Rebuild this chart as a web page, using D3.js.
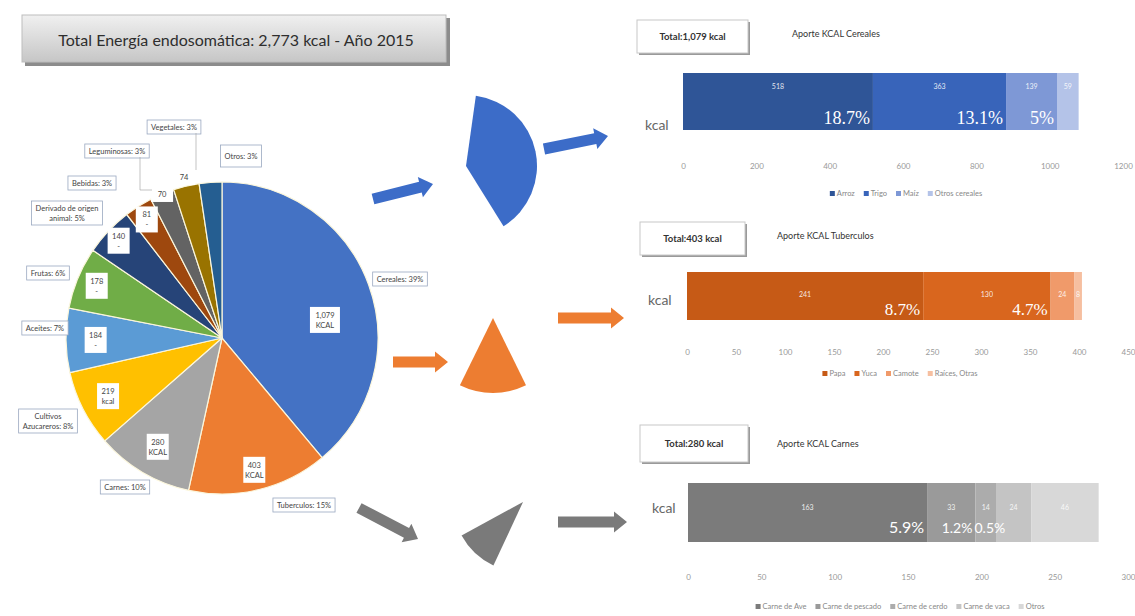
<!DOCTYPE html>
<html><head><meta charset="utf-8">
<script src="https://cdn.jsdelivr.net/npm/d3@7"></script>
<style>body{margin:0;background:#fff}svg{display:block;font-family:Lato,"Liberation Sans",sans-serif}</style>
</head><body><svg id="c" width="1135" height="616"></svg>
<script>
// ---------------- DATA ----------------
const titleText = "Total Energía endosomática: 2,773 kcal - Año 2015";
const pieCategories = ["Cereales","Tuberculos","Carnes","Cultivos Azucareros","Aceites","Frutas","Derivado de origen animal","Bebidas","Leguminosas","Vegetales","Otros"];
const pieValues = [1079,403,280,219,184,178,140,81,70,74,65];
const piePctLabels = ["39%","15%","10%","8%","7%","6%","5%","3%","3%","3%","3%"];
const pieValueLabels = [["1,079","KCAL"],["403","KCAL"],["280","KCAL"],["219","kcal"],["184","-"],["178","-"],["140","-"],["81","-"],["70"],["74"],[]];

const cerealCats = ["Arroz","Trigo","Maíz","Otros cereales"];
const cerealVals = [518,363,139,59];
const cerealPct = ["18.7%","13.1%","5%",""];
const cerealTicks = [0,200,400,600,800,1000,1200];

const tuberCats = ["Papa","Yuca","Camote","Raíces, Otras"];
const tuberVals = [241,130,24,8];
const tuberPct = ["8.7%","4.7%","",""];
const tuberTicks = [0,50,100,150,200,250,300,350,400,450];

const carneCats = ["Carne de Ave","Carne de pescado","Carne de cerdo","Carne de vaca","Otros"];
const carneVals = [163,33,14,24,46];
const carnePct = ["5.9%","1.2%","0.5%","",""];
const carneTicks = [0,50,100,150,200,250,300];

// ---------------- STYLE / LAYOUT ----------------
const pieColors = ["#4472C4","#ED7D31","#A5A5A5","#FFC000","#5B9BD5","#70AD47","#264478","#9E480E","#636363","#997300","#255E91"];
const svg = d3.select("#c");
const defs = svg.append("defs");

// title box
const tg = defs.append("linearGradient").attr("id","tg").attr("x1",0).attr("y1",0).attr("x2",0).attr("y2",1);
tg.append("stop").attr("offset","0%").attr("stop-color","#f0f0f0");
tg.append("stop").attr("offset","100%").attr("stop-color","#c6c6c6");
svg.append("rect").attr("x",25).attr("y",18).attr("width",425).attr("height",48).attr("fill","#8c8c8c");
svg.append("rect").attr("x",22).attr("y",15).attr("width",424).attr("height",47).attr("fill","url(#tg)").attr("stroke","#bdbdbd");
svg.append("text").attr("x",236).attr("y",46).attr("text-anchor","middle").attr("font-size",16).attr("fill","#2e2e2e").text(titleText);

// ---------------- PIE ----------------
const cx=222, cy=338, R=156;
const pie = d3.pie().sort(null).value(d=>d)(pieValues);
const arc = d3.arc().innerRadius(0).outerRadius(R);
const pg = svg.append("g").attr("transform",`translate(${cx},${cy})`);
pg.selectAll("path").data(pie).join("path").attr("d",arc)
  .attr("fill",(d,i)=>pieColors[i]).attr("stroke","#fbf6dc").attr("stroke-width",1.2);

// inner value labels
const labRad = [0.67,0.87,0.81,0.82,0.81,0.87,0.91,0.9,1.0,1.06,0];
const labAngShift = [10,0,0,0,0,0,0,0,0,0,0];
pie.forEach((d,i)=>{
  const lines = pieValueLabels[i]; if(!lines.length) return;
  const a = (d.startAngle+d.endAngle)/2 + labAngShift[i]*Math.PI/180;
  const r = R*labRad[i];
  const x = cx + r*Math.sin(a), y = cy - r*Math.cos(a);
  const w = lines[0].length>3?30:22, h = lines.length*10+6;
  svg.append("rect").attr("x",x-w/2).attr("y",y-h/2).attr("width",w).attr("height",h).attr("fill","#fff");
  lines.forEach((t,j)=>svg.append("text").attr("x",x).attr("y",y-h/2+11+j*10).attr("text-anchor","middle")
    .attr("font-size",7.5).attr("fill","#444").text(t));
});

// outside labels (boxes)
const outPos = [[400,279],[304,505],[125,487],[48,421],[45,328],[48,273],[67,213],[92,183],[117,151],[174,127],[241,156]];
const twoLine = {3:["Cultivos","Azucareros: "],6:["Derivado de origen","animal: "]};
pieCategories.forEach((c,i)=>{
  const [x,y]=outPos[i];
  const lines = twoLine[i] ? [twoLine[i][0], twoLine[i][1]+piePctLabels[i]] : [c+": "+piePctLabels[i]];
  const g = svg.append("g");
  const texts = lines.map((t,j)=>g.append("text").attr("x",x).attr("y",y+3+(j-(lines.length-1)/2)*10)
      .attr("text-anchor","middle").attr("font-size",7.5).attr("fill","#444").text(t));
  const w = d3.max(texts,t=>t.node().getComputedTextLength())+8;
  const h = lines.length*10+4 + (i===10?8:0);
  g.insert("rect","text").attr("x",x-w/2).attr("y",y-h/2).attr("width",w).attr("height",h)
   .attr("fill","#fff").attr("stroke","#9aa8c0").attr("stroke-width",0.8);
});
// leader lines
svg.append("path").attr("d","M196,133 L196,170").attr("stroke","#aaa").attr("fill","none").attr("stroke-width",0.7);
svg.append("path").attr("d","M140,157 L140,190 L152,190").attr("stroke","#aaa").attr("fill","none").attr("stroke-width",0.7);

// ---------------- ARROWS & WEDGES ----------------
function blockArrow(x1,y1,x2,y2,w,hw,hl){
  const dx=x2-x1, dy=y2-y1, L=Math.hypot(dx,dy), ux=dx/L, uy=dy/L, px=-uy, py=ux;
  const bx=x2-ux*hl, by=y2-uy*hl;
  const pts=[[x1+px*w/2,y1+py*w/2],[bx+px*w/2,by+py*w/2],[bx+px*hw/2,by+py*hw/2],[x2,y2],[bx-px*hw/2,by-py*hw/2],[bx-px*w/2,by-py*w/2],[x1-px*w/2,y1-py*w/2]];
  return d3.line()(pts)+"Z";
}
const arrows = [
  [373,199,433,184,"#3c6cc8"],[544,149,608,136,"#3c6cc8"],
  [393,362,448,362,"#ED7D31"],[558,318,624,318,"#ED7D31"],
  [359,508,418,539,"#7a7a7a"],[558,522,627,522,"#7a7a7a"]];
arrows.forEach(a=>svg.append("path").attr("d",blockArrow(a[0],a[1],a[2],a[3],11,21,13)).attr("fill",a[4]));

function wedge(i,x,y,r,rot,color){
  const d = pie[i], rr = rot*Math.PI/180;
  svg.append("path").attr("transform",`translate(${x},${y})`)
    .attr("d",d3.arc().innerRadius(0).outerRadius(r)({startAngle:d.startAngle+rr,endAngle:d.endAngle+rr}))
    .attr("fill",color);
}
wedge(0,466,166,71,8,"#3c6cc8");
wedge(1,493,318,75,13.8,"#ED7D31");
wedge(2,523,502,70,12.6,"#7a7a7a");

// ---------------- BAR CHARTS ----------------
function barChart(o){
  const x = d3.scaleLinear().domain([0,o.ticks[o.ticks.length-1]]).range([o.x0,o.x1]);
  // total box
  svg.append("rect").attr("x",o.box[0]+2).attr("y",o.box[1]+2).attr("width",o.box[2]).attr("height",o.box[3]).attr("fill","#9a9a9a");
  svg.append("rect").attr("x",o.box[0]).attr("y",o.box[1]).attr("width",o.box[2]).attr("height",o.box[3]).attr("fill","#fff").attr("stroke","#c8c8c8");
  svg.append("text").attr("x",o.box[0]+o.box[2]/2).attr("y",o.box[1]+o.box[3]/2+3.5).attr("text-anchor","middle")
    .attr("font-size",9.5).attr("font-weight","bold").attr("fill","#333").text(o.total);
  svg.append("text").attr("x",o.titleX).attr("y",o.titleY).attr("font-size",9).attr("fill","#333").text(o.title);
  svg.append("text").attr("x",o.kx).attr("y",o.ky).attr("font-size",14).attr("fill","#666").text("kcal");
  let acc=0;
  const segs = o.vals.map((v,i)=>{const s={i,v,a:acc,b:acc+v}; acc+=v; return s;});
  const g = svg.append("g");
  g.selectAll("rect").data(segs).join("rect")
    .attr("x",d=>x(d.a)).attr("width",d=>x(d.b)-x(d.a)).attr("y",o.y0).attr("height",o.y1-o.y0)
    .attr("fill",d=>o.colors[d.i]);
  g.selectAll("text.v").data(segs).join("text").attr("class","v")
    .attr("x",d=>(x(d.a)+x(d.b))/2).attr("y",o.vy).attr("text-anchor","middle")
    .attr("font-size",7).attr("fill","#fff").attr("opacity",0.85).text(d=>d.v);
  // percentage labels, right-aligned at segment end; pushed right if they would overlap the previous one
  let prevRight = -Infinity;
  segs.filter(d=>o.pct[d.i]).forEach((d,k)=>{
    const t = g.append("text").attr("y",o.py).attr("text-anchor","start")
      .style("font-size",(k===0?o.pfs:o.pfs2)+"px").style("font-family",o.pff).attr("fill","#fff").text(o.pct[d.i]);
    const w = t.node().getComputedTextLength();
    let left = x(d.b)-3-w;
    if(left < prevRight+2) left = prevRight+2;
    t.attr("x",left);
    prevRight = left+w;
  });
  // axis
  const ax = svg.append("g").attr("transform",`translate(0,${o.ty})`)
    .call(d3.axisBottom(x).tickValues(o.ticks).tickSize(0).tickFormat(d3.format("d")));
  ax.select(".domain").remove();
  ax.selectAll("text").attr("font-size",8).attr("fill","#999").attr("font-family","Lato,sans-serif");
  // legend
  const lg = svg.append("g");
  let lx=0;
  o.cats.forEach((c,i)=>{
    const it = lg.append("g");
    it.append("rect").attr("x",lx).attr("y",-5).attr("width",5).attr("height",5).attr("fill",o.colors[i]);
    const t = it.append("text").attr("x",lx+7).attr("y",0).attr("font-size",7.5).attr("fill","#888").text(c);
    lx += 7 + t.node().getComputedTextLength() + 9;
  });
  lg.attr("transform",`translate(${o.lcx-(lx-9)/2},${o.ly})`);
}

barChart({title:"Aporte KCAL Cereales",total:"Total:1,079 kcal",box:[637,20,111,33],titleX:792,titleY:37,
  kx:645,ky:130,x0:683,x1:1123,y0:73,y1:130,vy:89,py:124,pfs:18,pfs2:18,pff:"'Liberation Serif',serif",
  ty:160,ticks:cerealTicks,lcx:906,ly:196,cats:cerealCats,vals:cerealVals,pct:cerealPct,
  colors:["#2F5597","#3864BA","#7E98D6","#B4C3E8"]});
barChart({title:"Aporte KCAL Tuberculos",total:"Total:403 kcal",box:[640,222,105,33],titleX:777,titleY:239,
  kx:648,ky:305,x0:687,x1:1128,y0:272,y1:320,vy:297,py:315,pfs:17,pfs2:17,pff:"'Liberation Serif',serif",
  ty:346,ticks:tuberTicks,lcx:900,ly:376,cats:tuberCats,vals:tuberVals,pct:tuberPct,
  colors:["#C65A16","#D9661E","#F09A6A","#F6BFA0"]});
barChart({title:"Aporte KCAL Carnes",total:"Total:280 kcal",box:[640,425,108,37],titleX:777,titleY:447,
  kx:652,ky:513,x0:688,x1:1128,y0:483,y1:542,vy:510,py:533,pfs:16,pfs2:14,pff:"Lato,sans-serif",
  ty:571,ticks:carneTicks,lcx:900,ly:609,cats:carneCats,vals:carneVals,pct:carnePct,
  colors:["#7b7b7b","#9a9a9a","#acacac","#c4c4c4","#d8d8d8"]});
</script></body></html>
